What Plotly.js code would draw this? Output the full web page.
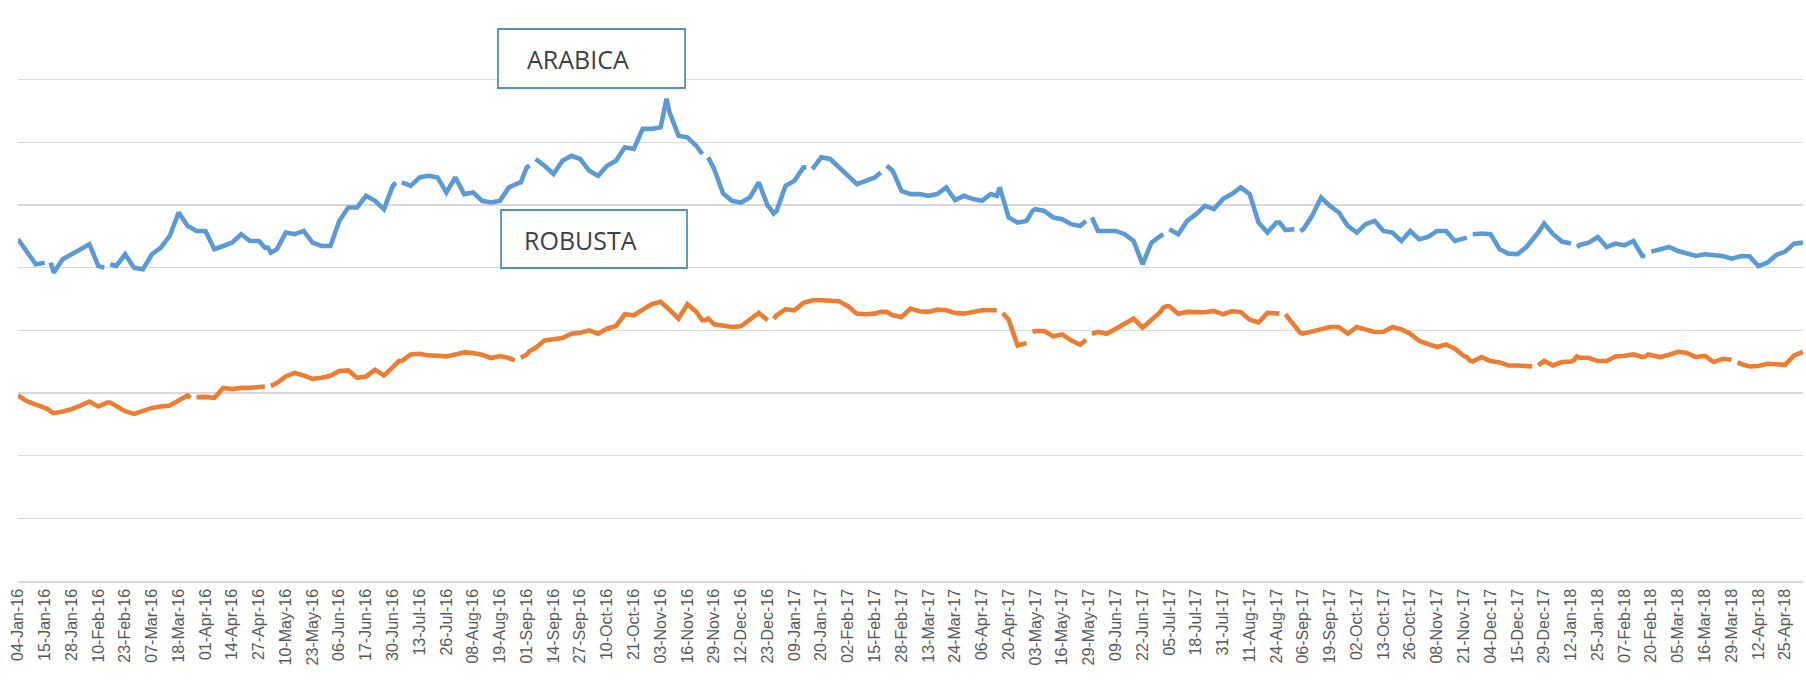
<!DOCTYPE html>
<html>
<head>
<meta charset="utf-8">
<script src="https://cdn.plot.ly/plotly-3.0.1.min.js"></script>
<style>html,body{margin:0;padding:0;background:#fff;}#chart{width:1806px;height:687px;}</style>
</head>
<body>
<div id="chart"></div>
<script>
// Trading-day axis labels (every 9th trading day)
const tickLabels = [
'04-Jan-16','15-Jan-16','28-Jan-16','10-Feb-16','23-Feb-16','07-Mar-16','18-Mar-16','01-Apr-16','14-Apr-16','27-Apr-16',
'10-May-16','23-May-16','06-Jun-16','17-Jun-16','30-Jun-16','13-Jul-16','26-Jul-16','08-Aug-16','19-Aug-16','01-Sep-16',
'14-Sep-16','27-Sep-16','10-Oct-16','21-Oct-16','03-Nov-16','16-Nov-16','29-Nov-16','12-Dec-16','23-Dec-16','09-Jan-17',
'20-Jan-17','02-Feb-17','15-Feb-17','28-Feb-17','13-Mar-17','24-Mar-17','06-Apr-17','20-Apr-17','03-May-17','16-May-17',
'29-May-17','09-Jun-17','22-Jun-17','05-Jul-17','18-Jul-17','31-Jul-17','11-Aug-17','24-Aug-17','06-Sep-17','19-Sep-17',
'02-Oct-17','13-Oct-17','26-Oct-17','08-Nov-17','21-Nov-17','04-Dec-17','15-Dec-17','29-Dec-17','12-Jan-18','25-Jan-18',
'07-Feb-18','20-Feb-18','05-Mar-18','16-Mar-18','29-Mar-18','12-Apr-18','25-Apr-18'];

// Days with no row at all in the source sheet (both markets closed)
const closedDays = ['2016-03-25','2016-05-30','2016-12-26','2017-01-02','2017-04-14','2017-12-25','2018-01-01','2018-03-30'];

const dates = [
'2016-01-04','2016-01-07','2016-01-12','2016-01-15','2016-01-18','2016-01-19','2016-01-20','2016-01-25','2016-01-28','2016-02-02',
'2016-02-05','2016-02-10','2016-02-12','2016-02-15','2016-02-16','2016-02-18','2016-02-23','2016-02-26','2016-03-02','2016-03-07',
'2016-03-10','2016-03-15','2016-03-18','2016-03-23','2016-03-24','2016-03-28','2016-03-29','2016-04-01','2016-04-06','2016-04-11',
'2016-04-14','2016-04-19','2016-04-22','2016-04-27','2016-04-29','2016-05-02','2016-05-03','2016-05-05','2016-05-10','2016-05-13',
'2016-05-18','2016-05-23','2016-05-26','2016-06-01','2016-06-06','2016-06-09','2016-06-14','2016-06-17','2016-06-22','2016-06-27',
'2016-06-30','2016-07-01','2016-07-04','2016-07-05','2016-07-08','2016-07-13','2016-07-18','2016-07-21','2016-07-26','2016-07-29',
'2016-08-03','2016-08-08','2016-08-11','2016-08-16','2016-08-19','2016-08-24','2016-08-26','2016-08-29','2016-08-30','2016-09-01',
'2016-09-02','2016-09-05','2016-09-06','2016-09-09','2016-09-14','2016-09-19','2016-09-22','2016-09-27','2016-09-30','2016-10-05',
'2016-10-10','2016-10-13','2016-10-18','2016-10-21','2016-10-26','2016-10-31','2016-11-03','2016-11-07','2016-11-08','2016-11-11',
'2016-11-16','2016-11-21','2016-11-23','2016-11-24','2016-11-25','2016-11-29','2016-12-02','2016-12-07','2016-12-12','2016-12-15',
'2016-12-20','2016-12-23','2016-12-27','2016-12-28','2016-12-29','2017-01-04','2017-01-09','2017-01-12','2017-01-13','2017-01-16',
'2017-01-17','2017-01-20','2017-01-25','2017-01-30','2017-02-02','2017-02-07','2017-02-10','2017-02-15','2017-02-17','2017-02-20',
'2017-02-21','2017-02-23','2017-02-28','2017-03-03','2017-03-08','2017-03-13','2017-03-16','2017-03-21','2017-03-24','2017-03-29',
'2017-04-03','2017-04-06','2017-04-11','2017-04-13','2017-04-17','2017-04-18','2017-04-20','2017-04-25','2017-04-28','2017-05-01',
'2017-05-02','2017-05-03','2017-05-08','2017-05-11','2017-05-16','2017-05-19','2017-05-24','2017-05-26','2017-05-29','2017-05-30',
'2017-06-01','2017-06-06','2017-06-09','2017-06-14','2017-06-19','2017-06-22','2017-06-27','2017-06-30','2017-07-03','2017-07-04',
'2017-07-05','2017-07-10','2017-07-13','2017-07-18','2017-07-21','2017-07-26','2017-07-31','2017-08-03','2017-08-08','2017-08-11',
'2017-08-16','2017-08-21','2017-08-24','2017-08-25','2017-08-28','2017-08-29','2017-09-01','2017-09-04','2017-09-05','2017-09-06',
'2017-09-11','2017-09-14','2017-09-19','2017-09-22','2017-09-27','2017-10-02','2017-10-05','2017-10-10','2017-10-13','2017-10-18',
'2017-10-23','2017-10-26','2017-10-31','2017-11-03','2017-11-08','2017-11-13','2017-11-16','2017-11-21','2017-11-22','2017-11-23',
'2017-11-24','2017-11-29','2017-12-04','2017-12-07','2017-12-12','2017-12-15','2017-12-20','2017-12-22','2017-12-26','2017-12-27',
'2017-12-29','2018-01-04','2018-01-09','2018-01-12','2018-01-15','2018-01-16','2018-01-17','2018-01-22','2018-01-25','2018-01-30',
'2018-02-02','2018-02-07','2018-02-12','2018-02-15','2018-02-16','2018-02-19','2018-02-20','2018-02-23','2018-02-28','2018-03-05',
'2018-03-08','2018-03-13','2018-03-16','2018-03-21','2018-03-26','2018-03-29','2018-04-02','2018-04-03','2018-04-04','2018-04-09',
'2018-04-12','2018-04-17','2018-04-20','2018-04-25','2018-04-30','2018-05-03'];

const arabica = [
2727,2620,2527,2540,null,2540,2460,2567,2607,2647,
2687,2513,2500,null,2527,2513,2607,2500,2487,2607,
2660,2753,2940,2833,2820,2807,2793,2793,2647,2673,
2700,2767,2713,2713,2660,2660,2620,2647,2780,2767,
2793,2700,2673,2673,2873,2980,2980,3073,3033,2967,
3153,3180,null,3180,3153,3220,3233,3220,3100,3220,
3087,3100,3033,3020,3033,3140,3167,3172,3180,3300,
3313,null,3367,3313,3247,3353,3393,3367,3273,3233,
3313,3353,3460,3447,3607,3607,3620,3847,3740,3553,
3540,3473,3407,null,3380,3287,3092,3033,3020,3060,
3180,2993,2967,2932,2953,3153,3193,3300,3300,null,
3287,3380,3367,3300,3233,3167,3193,3220,3260,null,
3313,3273,3113,3087,3087,3073,3087,3140,3039,3073,
3047,3033,3087,3073,3140,3060,2900,2860,2873,2913,
2953,2967,2953,2900,2887,2847,2833,2873,null,2900,
2793,2793,2793,2767,2713,2527,2700,2753,2767,null,
2807,2767,2873,2927,2993,2967,3047,3087,3140,3087,
2860,2780,2860,2860,2833,2800,2807,null,2793,2807,
2913,3060,2993,2940,2833,2780,2847,2873,2793,2780,
2713,2793,2727,2745,2793,2793,2713,2735,2740,null,
2767,2772,2767,2647,2612,2607,2665,2719,2753,2780,
2852,2767,2708,2692,null,2665,2681,2700,2745,2665,
2692,2679,2713,2593,2593,null,2628,2647,2665,2633,
2612,2593,2607,2599,2593,2572,2580,2585,2591,2591,
2513,2540,2601,2628,2692,2700];

const robusta = [
1480,1435,1408,1387,1373,1352,1339,1352,1371,1400,
1432,1392,1419,1424,1424,1397,1355,1333,1360,1381,
1392,1400,1440,1480,1461,null,1467,1469,1461,1541,
1531,1541,1541,1547,1552,null,1557,1579,1632,1661,
1640,1613,1621,1637,1675,1680,1621,1632,1685,1640,
1707,1728,1755,1755,1808,1813,1800,1797,1792,1808,
1824,1819,1805,1779,1795,1779,1760,null,1781,1808,
1835,1845,1861,1920,1933,1939,1973,1981,2000,1973,
2013,2035,2128,2120,2165,2208,2227,2192,2165,2093,
2208,2147,2080,2080,2093,2048,2040,2027,2032,2085,
2139,2080,null,2093,2120,2168,2160,2219,2227,2235,
2240,2240,2235,2232,2192,2133,2128,2133,2147,2147,
2147,2120,2107,2173,2152,2147,2165,2160,2139,2133,
2147,2160,2160,2160,null,2139,2085,1880,1899,null,
1987,1995,1995,1952,1968,1920,1885,1925,null,1973,
1987,1973,2013,2053,2093,2021,2080,2147,2181,2192,
2192,2133,2147,2147,2144,2155,2128,2152,2147,2085,
2064,2139,2128,2133,null,2128,2040,2013,1981,1973,
1992,2013,2027,2027,1973,2027,2005,1987,1989,2027,
2008,1973,1915,1893,1867,1888,1853,1795,1787,1760,
1752,1787,1755,1744,1720,1720,1712,1712,null,1720,
1755,1720,1747,1752,1760,1792,1781,1781,1755,1755,
1792,1797,1808,1787,1792,1808,1805,1787,1805,1829,
1819,1787,1797,1747,1773,1765,null,1744,1733,1712,
1715,1733,1733,1725,1800,1827];

const seriesNames = ['ARABICA','ROBUSTA'];

const monthNum = {Jan:'01',Feb:'02',Mar:'03',Apr:'04',May:'05',Jun:'06',Jul:'07',Aug:'08',Sep:'09',Oct:'10',Nov:'11',Dec:'12'};
const tickVals = tickLabels.map(function(s){ const p = s.split('-'); return '20' + p[2] + '-' + monthNum[p[1]] + '-' + p[0]; });

const traces = [
  {x: dates, y: arabica, type: 'scatter', mode: 'lines', name: seriesNames[0],
   line: {color: '#5B9BD5', width: 4.6}, connectgaps: false, hoverinfo: 'skip'},
  {x: dates, y: robusta, type: 'scatter', mode: 'lines', name: seriesNames[1],
   line: {color: '#ED7D31', width: 4.6}, connectgaps: false, hoverinfo: 'skip'}
];

const boxLine = {color: '#4E95BD', width: 1.8};
const layout = {
  width: 1806, height: 687,
  margin: {l: 18, r: 3, t: 17, b: 106},
  paper_bgcolor: '#ffffff', plot_bgcolor: '#ffffff',
  showlegend: false,
  xaxis: {
    type: 'date',
    range: [dates[0], dates[dates.length - 1]],
    rangebreaks: [{bounds: ['sat', 'mon']}, {values: closedDays}],
    tickmode: 'array', tickvals: tickVals, ticktext: tickLabels,
    tickangle: -90, ticks: '',
    tickfont: {family: 'Liberation Sans, Arial, sans-serif', size: 16, color: '#595959'},
    showgrid: false, zeroline: false,
    showline: true, linecolor: '#D9D9D9', linewidth: 1.5
  },
  yaxis: {
    range: [0, 4500], dtick: 500, tick0: 0,
    showticklabels: false, ticks: '',
    showgrid: true, gridcolor: '#D9D9D9', gridwidth: 1.5,
    zeroline: false, showline: false
  },
  shapes: [
    {type: 'rect', xref: 'paper', yref: 'paper', x0: 0.2689, x1: 0.3737, y0: 0.8741, y1: 0.9787,
     line: boxLine, fillcolor: '#ffffff', layer: 'above'},
    {type: 'rect', xref: 'paper', yref: 'paper', x0: 0.2706, x1: 0.3748, y0: 0.5550, y1: 0.6578,
     line: boxLine, fillcolor: '#ffffff', layer: 'above'}
  ],
  annotations: [
    {text: seriesNames[0], xref: 'paper', yref: 'paper', x: 0.2840, y: 0.9255, xanchor: 'left', yanchor: 'middle',
     showarrow: false, font: {family: 'Open Sans, sans-serif', size: 25, color: '#404040'}},
    {text: seriesNames[1], xref: 'paper', yref: 'paper', x: 0.2824, y: 0.6046, xanchor: 'left', yanchor: 'middle',
     showarrow: false, font: {family: 'Open Sans, sans-serif', size: 25, color: '#404040'}}
  ]
};

Plotly.newPlot('chart', traces, layout, {displayModeBar: false, staticPlot: true});
</script>
</body>
</html>
